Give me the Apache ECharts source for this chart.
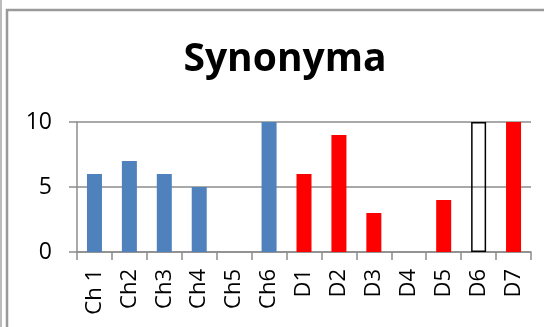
<!DOCTYPE html>
<html>
<head>
<meta charset="utf-8">
<script src="https://cdn.jsdelivr.net/npm/echarts@6/dist/echarts.min.js"></script>
<style>
  html, body { margin: 0; padding: 0; background: #fff; }
  #chart { width: 544px; height: 327px; }
</style>
</head>
<body>
<div id="chart"></div>
<script>
  // data
  let categories = ['Ch 1', 'Ch2', 'Ch3', 'Ch4', 'Ch5', 'Ch6', 'D1', 'D2', 'D3', 'D4', 'D5', 'D6', 'D7'];
  let chValues = [6, 7, 6, 5, 0, 10];
  let dValues = [6, 9, 3, 0, 4, 10, 10];
  let hollowCategory = 'D6';
  let yTicks = [0, 5, 10];

  let font = '"Open Sans", sans-serif';

  // build the two series, ch first then d
  let chData = categories.map((c, i) => i < chValues.length ? chValues[i] : '-');
  let dData = categories.map((c, i) => {
    if (i < chValues.length) return '-';
    let v = dValues[i - chValues.length];
    if (c === hollowCategory) {
      return {
        value: v,
        itemStyle: { color: 'rgba(0,0,0,0)', borderColor: '#000', borderWidth: 1.5 }
      };
    }
    return v;
  });

  let chart = echarts.init(document.getElementById('chart'), null, { renderer: 'canvas' });

  let option = {
    animation: false,
    backgroundColor: '#fff',
    title: {
      text: 'Synonyma',
      left: 280,
      textAlign: 'center',
      top: 35,
      textStyle: { fontFamily: font, fontWeight: 'bold', fontSize: 39, color: '#000' }
    },
    graphic: [
      { type: 'line', shape: { x1: 1, y1: 0, x2: 1, y2: 327 }, style: { stroke: '#a6a6a6', lineWidth: 1.5 } },
      { type: 'rect', shape: { x: 7, y: 10, width: 700, height: 500 }, style: { fill: 'none', stroke: '#9a9a9a', lineWidth: 2.5 } }
    ],
    grid: { left: 77, right: 13, top: 122, bottom: 75 },
    xAxis: {
      type: 'category',
      data: categories,
      axisLine: { lineStyle: { color: '#8c8c8c', width: 1.5 } },
      axisTick: { show: true, length: 8, lineStyle: { color: '#8c8c8c', width: 1.5 } },
      axisLabel: { rotate: 90, margin: 17, color: '#000', fontFamily: font, fontSize: 22, interval: 0 }
    },
    yAxis: {
      type: 'value',
      min: yTicks[0],
      max: yTicks[yTicks.length - 1],
      interval: yTicks[1] - yTicks[0],
      axisLine: { show: true, lineStyle: { color: '#8c8c8c', width: 1.5 } },
      axisTick: { show: true, length: 8, lineStyle: { color: '#8c8c8c', width: 1.5 } },
      splitLine: { lineStyle: { color: '#8c8c8c', width: 1.5 } },
      axisLabel: { margin: 25, color: '#000', fontFamily: font, fontSize: 23 }
    },
    series: [
      {
        type: 'bar',
        data: chData,
        barWidth: 15,
        barGap: '-100%',
        itemStyle: { color: '#4f81bd' }
      },
      {
        type: 'bar',
        data: dData,
        barWidth: 15,
        barGap: '-100%',
        itemStyle: { color: '#ff0000' }
      }
    ]
  };

  chart.setOption(option);
</script>
</body>
</html>
